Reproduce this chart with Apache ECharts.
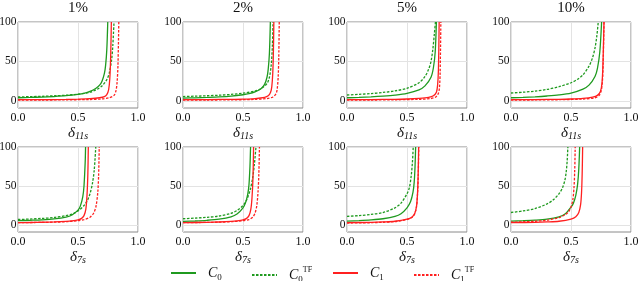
<!DOCTYPE html>
<html>
<head>
<meta charset="utf-8">
<script src="https://cdn.jsdelivr.net/npm/echarts@6/dist/echarts.min.js"></script>
<style>
html,body{margin:0;padding:0;background:#fff;}
#chart{width:640px;height:281px;}
</style>
</head>
<body>
<div id="chart"></div>
<script>
// ---- data ----
const titles = ['1%', '2%', '5%', '10%'];
const xNames = ['11s', '7s'];
const xTickValues = [0, 0.5, 1];
const yTickValues = [0, 50, 100];
const seriesNames = ['C0', 'C0TF', 'C1', 'C1TF'];

// Row 1 : delta_11s
const r1p1_C0   = [[0,4],[0.1,4.4],[0.2,4.9],[0.3,5.6],[0.4,6.6],[0.5,8.3],[0.55,9.6],[0.6,12],[0.65,16],[0.68,20],[0.7,25],[0.72,35],[0.73,45],[0.74,65],[0.748,100]];
const r1p1_C0TF = [[0,5],[0.1,5.4],[0.2,5.8],[0.3,6.4],[0.4,7.2],[0.5,8.6],[0.6,11],[0.65,14],[0.7,19],[0.74,27],[0.76,35],[0.78,52],[0.79,70],[0.8,100]];
const r1p1_C1   = [[0,1.5],[0.2,1.6],[0.4,1.9],[0.5,2.2],[0.6,2.8],[0.68,4],[0.72,5.5],[0.74,8],[0.755,14],[0.765,28],[0.772,55],[0.778,100]];
const r1p1_C1TF = [[0,1],[0.2,1.1],[0.4,1.3],[0.6,1.8],[0.7,2.5],[0.76,4],[0.8,7],[0.815,12],[0.825,22],[0.833,45],[0.84,100]];

const r1p2_C0   = [[0,3.5],[0.1,3.9],[0.2,4.4],[0.3,5],[0.4,6],[0.5,7.8],[0.55,9.2],[0.6,11.5],[0.65,15.5],[0.68,21],[0.7,30],[0.71,40],[0.72,60],[0.728,100]];
const r1p2_C0TF = [[0,5.5],[0.1,6],[0.2,6.5],[0.3,7.2],[0.4,8.2],[0.5,9.8],[0.6,12.5],[0.65,15.5],[0.7,22],[0.72,30],[0.735,45],[0.745,70],[0.75,100]];
const r1p2_C1   = [[0,1.5],[0.2,1.7],[0.4,2],[0.5,2.3],[0.6,3],[0.68,4.5],[0.71,6.5],[0.73,11],[0.74,18],[0.748,35],[0.753,60],[0.757,100]];
const r1p2_C1TF = [[0,1],[0.2,1.1],[0.4,1.3],[0.6,1.9],[0.7,3],[0.75,5],[0.775,9],[0.785,15],[0.793,30],[0.798,55],[0.802,100]];

const r1p3_C0   = [[0,4],[0.1,4.5],[0.2,5.1],[0.3,6],[0.4,7.3],[0.5,9.5],[0.6,14],[0.65,19],[0.7,30],[0.72,42],[0.735,62],[0.745,100]];
const r1p3_C0TF = [[0,7.5],[0.1,8.3],[0.2,9.3],[0.3,10.7],[0.4,12.7],[0.5,16],[0.6,23],[0.65,31],[0.68,40],[0.7,50],[0.715,65],[0.728,85],[0.737,100]];
const r1p3_C1   = [[0,1.5],[0.2,1.7],[0.4,2],[0.5,2.4],[0.6,3.2],[0.68,4.5],[0.72,6.5],[0.745,11],[0.755,20],[0.762,40],[0.768,100]];
const r1p3_C1TF = [[0,1],[0.2,1.1],[0.4,1.4],[0.6,2],[0.7,3],[0.74,5],[0.76,9],[0.77,16],[0.776,35],[0.782,100]];

const r1p4_C0   = [[0,4],[0.1,4.5],[0.2,5.2],[0.3,6.2],[0.4,7.6],[0.5,10],[0.6,15],[0.65,20],[0.7,31],[0.72,41],[0.74,62],[0.755,100]];
const r1p4_C0TF = [[0,10],[0.1,11],[0.2,12.4],[0.3,14.5],[0.4,18],[0.5,23],[0.55,27],[0.6,33],[0.65,44],[0.68,55],[0.7,67],[0.715,82],[0.727,100]];
const r1p4_C1   = [[0,1.5],[0.2,1.7],[0.4,2],[0.5,2.4],[0.6,3.2],[0.68,4.8],[0.72,7],[0.745,12],[0.758,22],[0.766,45],[0.775,100]];
const r1p4_C1TF = [[0,1],[0.2,1.2],[0.4,1.5],[0.6,2.4],[0.7,4],[0.735,7],[0.752,13],[0.762,25],[0.768,48],[0.775,100]];

// Row 2 : delta_7s
const r2p1_C0   = [[0,5.5],[0.1,6],[0.2,6.6],[0.3,7.7],[0.4,10],[0.45,12.8],[0.5,19],[0.52,24.5],[0.54,36.5],[0.55,50],[0.56,81],[0.563,100]];
const r2p1_C0TF = [[0,7],[0.1,7.6],[0.2,8.4],[0.3,9.6],[0.4,12],[0.45,14],[0.5,18],[0.55,25],[0.58,32],[0.6,40],[0.62,53],[0.635,70],[0.648,100]];
const r2p1_C1   = [[0,3],[0.1,3.2],[0.2,3.5],[0.3,3.9],[0.4,4.6],[0.45,5.2],[0.5,6.5],[0.53,8.5],[0.55,12],[0.565,20],[0.575,38],[0.582,65],[0.586,100]];
const r2p1_C1TF = [[0,3],[0.2,3.3],[0.3,3.6],[0.4,4.2],[0.5,5.5],[0.55,6.8],[0.6,10],[0.63,15],[0.65,24],[0.665,42],[0.672,65],[0.677,100]];

const r2p2_C0   = [[0,4.5],[0.1,5.1],[0.2,6],[0.3,7.5],[0.4,10.5],[0.45,14],[0.5,22],[0.52,28],[0.54,40],[0.55,52],[0.558,75],[0.563,100]];
const r2p2_C0TF = [[0,8],[0.1,8.8],[0.2,9.8],[0.3,11.5],[0.4,15],[0.45,18.5],[0.5,25],[0.53,32],[0.56,45],[0.58,60],[0.595,78],[0.608,100]];
const r2p2_C1   = [[0,3],[0.2,3.4],[0.3,3.8],[0.4,4.5],[0.45,5.2],[0.5,6.5],[0.53,8.5],[0.55,12],[0.565,20],[0.575,35],[0.583,60],[0.588,100]];
const r2p2_C1TF = [[0,3],[0.2,3.3],[0.3,3.6],[0.4,4.2],[0.5,5.5],[0.55,7],[0.58,10],[0.6,15],[0.615,25],[0.625,42],[0.632,65],[0.637,100]];

const r2p3_C0   = [[0,5],[0.1,5.6],[0.2,6.5],[0.3,8],[0.4,11],[0.45,14.5],[0.5,22],[0.53,30],[0.55,42],[0.56,55],[0.567,75],[0.572,100]];
const r2p3_C0TF = [[0,11],[0.1,12],[0.2,13.5],[0.3,16],[0.4,22],[0.45,28],[0.5,40],[0.52,48],[0.535,63],[0.545,80],[0.552,100]];
const r2p3_C1   = [[0,3],[0.2,3.4],[0.3,3.9],[0.4,4.8],[0.5,7.5],[0.54,10],[0.565,15],[0.58,25],[0.588,42],[0.593,65],[0.597,100]];
const r2p3_C1TF = [[0,2.5],[0.2,2.9],[0.3,3.5],[0.4,4.4],[0.5,7],[0.54,9.5],[0.565,14.5],[0.58,24],[0.588,40],[0.594,65],[0.598,100]];

const r2p4_C0   = [[0,5],[0.1,5.5],[0.2,6.2],[0.3,7.5],[0.4,10.5],[0.45,14],[0.5,23],[0.52,28],[0.54,38],[0.555,52],[0.565,72],[0.572,100]];
const r2p4_C0TF = [[0,16],[0.1,18],[0.2,21],[0.3,27],[0.35,32],[0.4,40],[0.43,48],[0.45,58],[0.46,68],[0.468,82],[0.474,100]];
const r2p4_C1   = [[0,3],[0.2,3.4],[0.3,3.9],[0.4,4.8],[0.5,7.5],[0.54,10.5],[0.565,16],[0.58,26],[0.588,42],[0.593,65],[0.597,100]];
const r2p4_C1TF = [[0,3.5],[0.1,4],[0.2,4.8],[0.3,6.2],[0.4,9.5],[0.45,13],[0.48,17],[0.5,23],[0.515,32],[0.525,48],[0.531,70],[0.535,100]];

const panels = [
  [r1p1_C0, r1p1_C0TF, r1p1_C1, r1p1_C1TF],
  [r1p2_C0, r1p2_C0TF, r1p2_C1, r1p2_C1TF],
  [r1p3_C0, r1p3_C0TF, r1p3_C1, r1p3_C1TF],
  [r1p4_C0, r1p4_C0TF, r1p4_C1, r1p4_C1TF],
  [r2p1_C0, r2p1_C0TF, r2p1_C1, r2p1_C1TF],
  [r2p2_C0, r2p2_C0TF, r2p2_C1, r2p2_C1TF],
  [r2p3_C0, r2p3_C0TF, r2p3_C1, r2p3_C1TF],
  [r2p4_C0, r2p4_C0TF, r2p4_C1, r2p4_C1TF]
];

// ---- style ----
const FONT = 'Liberation Serif';
const GREEN = '#1f9a1f';
const RED = '#ff2020';
const styles = {
  C0:   {color: GREEN, type: 'solid'},
  C0TF: {color: GREEN, type: [2.5, 1.5]},
  C1:   {color: RED, type: 'solid'},
  C1TF: {color: RED, type: [2.5, 1.5]}
};
const lefts = [18, 183, 347, 511];
const rowTops = [22, 147];
const rowHeights = [86, 85];
const W = 120;

const grids = [], xAxes = [], yAxes = [], series = [], titleArr = [];
for (let i = 0; i < 8; i++) {
  const row = Math.floor(i / 4), col = i % 4;
  grids.push({left: lefts[col], top: rowTops[row], width: W, height: rowHeights[row],
    outerBoundsMode: 'none', containLabel: false,
    show: true, borderColor: '#8a8a8a', borderWidth: 1, backgroundColor: 'transparent'});
  xAxes.push({
    type: 'value', gridIndex: i, min: 0, max: 1, interval: 0.5,
    name: '{d|δ}{s|' + xNames[row] + '}', nameLocation: 'middle', nameGap: 17,
    nameTextStyle: {rich: {
      d: {fontFamily: FONT, fontStyle: 'italic', fontSize: 15, color: '#111', lineHeight: 16},
      s: {fontFamily: FONT, fontStyle: 'italic', fontSize: 10, color: '#111', verticalAlign: 'bottom', lineHeight: 10}
    }},
    axisLine: {show: false}, axisTick: {show: false},
    axisLabel: {fontFamily: FONT, fontSize: 12, color: '#111', margin: 4,
      formatter: v => v.toFixed(1), showMinLabel: true, showMaxLabel: true},
    splitLine: {show: true, lineStyle: {color: '#e3e3e3', width: 1}}
  });
  yAxes.push({
    type: 'value', gridIndex: i, min: -9, max: 100,
    axisLine: {show: false},
    axisTick: {show: false, customValues: yTickValues},
    axisLabel: {fontFamily: FONT, fontSize: 11.5, color: '#111', margin: 1.5, customValues: yTickValues},
    splitLine: {show: true, lineStyle: {color: '#e3e3e3', width: 1}}
  });
  panels[i].forEach((d, k) => {
    const nm = seriesNames[k];
    series.push({
      type: 'line', name: nm, xAxisIndex: i, yAxisIndex: i, data: d,
      symbol: 'none', showSymbol: false, smooth: 0.3, clip: true, z: 3 + k,
      lineStyle: {width: 1.3, color: styles[nm].color, type: styles[nm].type},
      itemStyle: {color: styles[nm].color},
      silent: true, animation: false
    });
  });
}
titles.forEach((t, c) => {
  titleArr.push({text: t, left: lefts[c] + W / 2, top: 0, padding: 0, textAlign: 'center',
    textStyle: {fontFamily: FONT, fontSize: 15, fontWeight: 'normal', color: '#111', lineHeight: 17}});
});

const legendLefts = [170, 251, 332, 413];
const legendLabels = {
  C0: '{c|C}{s|0}',
  C0TF: '{c|C}{s|0}{p|TF}',
  C1: '{c|C}{s|1}',
  C1TF: '{c|C}{s|1}{p|TF}'
};
const legendRich = {
  c: {fontFamily: FONT, fontStyle: 'italic', fontSize: 14, color: '#111', lineHeight: 18, padding: [0, 0, 0, 7]},
  s: {fontFamily: FONT, fontSize: 9, color: '#111', verticalAlign: 'bottom', lineHeight: 10},
  p: {fontFamily: FONT, fontSize: 8, color: '#111', verticalAlign: 'top', lineHeight: 9}
};
const legends = seriesNames.map((nm, k) => ({
  data: [nm], left: legendLefts[k], top: 266, padding: 0, itemWidth: 25, itemHeight: 12,
  selectedMode: false,
  formatter: n => legendLabels[n],
  textStyle: {rich: legendRich},
  itemStyle: {opacity: 0}
}));

const chart = echarts.init(document.getElementById('chart'), null, {renderer: 'canvas'});
chart.setOption({
  animation: false,
  backgroundColor: '#fff',
  title: titleArr,
  legend: legends,
  grid: grids, xAxis: xAxes, yAxis: yAxes, series: series
});
</script>
</body>
</html>
